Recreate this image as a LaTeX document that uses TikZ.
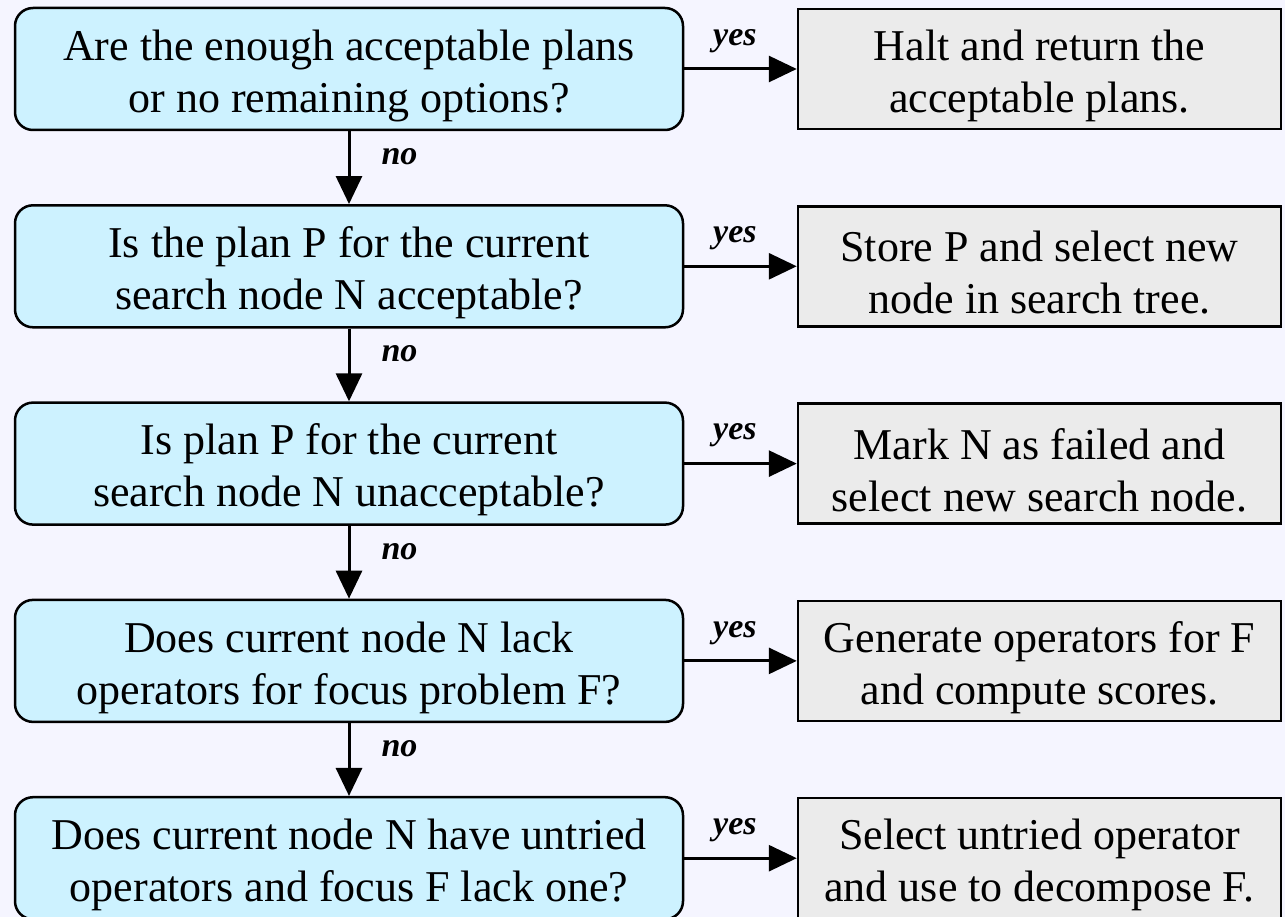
\documentclass[tikz,border=0pt]{standalone}
\usepackage{fontspec}
\setmainfont{Liberation Serif}
\usetikzlibrary{arrows.meta}
\definecolor{bgcol}{RGB}{245,245,255}
\definecolor{qfill}{RGB}{205,242,255}
\definecolor{afill}{RGB}{235,235,235}
% tall invisible strut so the two text lines sit on the font's full ascent
\newcommand\boxstrut{\rule{0pt}{1em}}
\begin{document}
\begin{tikzpicture}[x=1pt,y=-1pt,
  question/.style={draw=black, line width=2.5pt, fill=qfill, rounded corners=18pt,
    minimum width=668pt, minimum height=122pt, inner sep=0pt, align=center,
    font=\fontsize{44}{52}\selectfont},
  action/.style={draw=black, line width=2.5pt, fill=afill,
    minimum width=483pt, minimum height=120pt, inner sep=0pt, align=center,
    font=\fontsize{44}{52}\selectfont},
  flow/.style={line width=3pt, -{Triangle[length=28pt,width=26pt]}},
  lab/.style={font=\fontsize{34}{40}\selectfont\bfseries\itshape, inner sep=0pt}]

% canvas
\fill[bgcol] (0,0) rectangle (1285,917);
\useasboundingbox (0,0) rectangle (1285,917);

% decision boxes (left column)
\node[question] (q1) at (349,69.0)  {\boxstrut Are the enough acceptable plans\\or no remaining options?};
\node[question] (q2) at (349,266.3) {\boxstrut Is the plan P for the current\\search node N acceptable?};
\node[question] (q3) at (349,463.6) {\boxstrut Is plan P for the current\\search node N unacceptable?};
\node[question] (q4) at (349,660.9) {\boxstrut Does current node N lack\\operators for focus problem F?};
\node[question] (q5) at (349,858.2) {\boxstrut Does current node N have untried\\operators and focus F lack one?};

% action boxes (right column)
\node[action] (a1) at (1039.5,69.0)  {\boxstrut Halt and return the\\acceptable plans.};
\node[action] (a2) at (1039.5,266.3) {\boxstrut Store P and select new\\node in search tree.};
\node[action] (a3) at (1039.5,463.6) {\boxstrut Mark N as failed and\\select new search node.};
\node[action] (a4) at (1039.5,660.9) {\boxstrut Generate operators for F\\and compute scores.};
\node[action] (a5) at (1039.5,858.2) {\boxstrut Select untried operator\\and use to decompose F.};

% "no" branches
\draw[flow] (q1) -- node[lab, pos=0.35, right=31pt] (n1) {no} (q2);
\draw[flow] (q2) -- node[lab, pos=0.35, right=31pt] (n2) {no} (q3);
\draw[flow] (q3) -- node[lab, pos=0.35, right=31pt] (n3) {no} (q4);
\draw[flow] (q4) -- node[lab, pos=0.35, right=31pt] (n4) {no} (q5);

% "yes" branches
\draw[flow] (q1) -- node[lab, pos=0.45, above=15pt] (y1) {yes} (a1);
\draw[flow] (q2) -- node[lab, pos=0.45, above=15pt] (y2) {yes} (a2);
\draw[flow] (q3) -- node[lab, pos=0.45, above=15pt] (y3) {yes} (a3);
\draw[flow] (q4) -- node[lab, pos=0.45, above=15pt] (y4) {yes} (a4);
\draw[flow] (q5) -- node[lab, pos=0.45, above=15pt] (y5) {yes} (a5);
\end{tikzpicture}
\end{document}
